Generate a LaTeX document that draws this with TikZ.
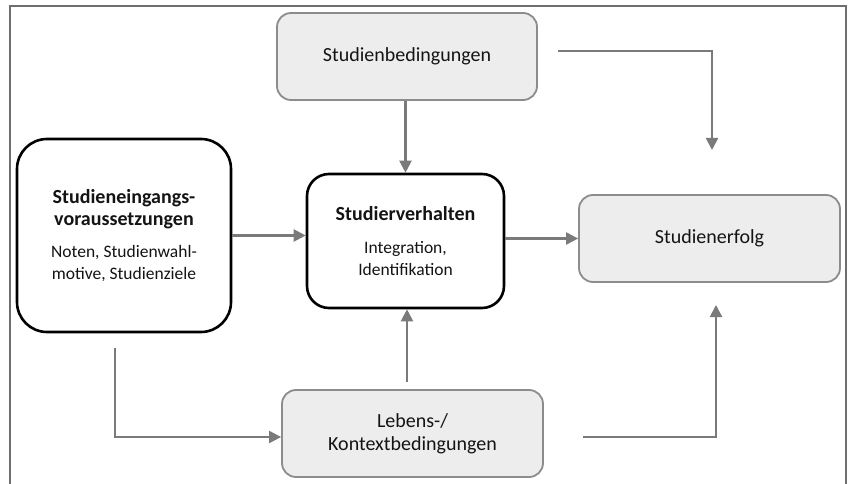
\documentclass[tikz,border=0pt]{standalone}
\usepackage{fontspec}
\setmainfont{Carlito}
\usetikzlibrary{arrows.meta}
\definecolor{boxgray}{HTML}{EDEDED}
\definecolor{edgegray}{HTML}{8C8C8C}
\definecolor{arrgray}{HTML}{7A7A7A}
\definecolor{framegray}{HTML}{6E6E6E}
\definecolor{txt}{HTML}{141414}
\begin{document}
\begin{tikzpicture}[x=1pt,y=-1pt,
  graybox/.style={draw=edgegray, fill=boxgray, line width=1.8pt, rounded corners=14pt,
    inner sep=0pt, align=center, text=txt, font=\fontsize{20}{23}\selectfont,
    minimum width=260pt, minimum height=87pt},
  blackbox/.style={draw=black, fill=white, line width=2.6pt, inner sep=0pt,
    align=center, text=txt, font=\fontsize{20}{22}\selectfont},
  conn/.style={draw=arrgray, line width=2.1pt, -{Triangle[length=12pt,width=12pt]}}]
\useasboundingbox (0,0) rectangle (849,484);
\fill[white] (0,0) rectangle (849,484);
\draw[framegray, line width=1.3pt] (10,484) -- (10,6) -- (846,6) -- (846,484);

\node[graybox] (bed) at (407,56.5) {Studienbedingungen};
\node[blackbox, rounded corners=30pt, minimum width=214pt, minimum height=193pt] (eing) at (124,235.5)
  {\textbf{Studieneingangs-}\\\textbf{voraussetzungen}\\[10pt]{\fontsize{17.5}{21}\selectfont Noten, Studienwahl-}\\{\fontsize{17.5}{21}\selectfont motive, Studienziele}};
\node[blackbox, rounded corners=22pt, minimum width=197pt, minimum height=134pt] (verh) at (405.5,241)
  {\textbf{Studierverhalten}\\[11pt]{\fontsize{17.5}{21}\selectfont Integration,}\\{\fontsize{17.5}{21}\selectfont Identifikation}};
\node[graybox, minimum width=261pt] (erf) at (709.5,238.5) {Studienerfolg};
\node[graybox, minimum width=261pt] (leb) at (412.5,433.5) {Lebens-/\\Kontextbedingungen};

\coordinate (b1) at (558,51);
\coordinate (b2) at (712,150);
\coordinate (e1) at (115,348);
\coordinate (l1) at (407,382);
\coordinate (l2) at (583,437);
\coordinate (l3) at (716,305);

\draw[conn] (bed.south -| verh.north) -- (verh.north);
\draw[conn] (eing.east) -- (eing.east -| verh.west);
\draw[conn] (verh.east |- erf.west) -- (erf.west);
\draw[conn] (b1) -| (b2);
\draw[conn] (e1) |- ([yshift=-3.5pt]leb.west);
\draw[conn] (l1) -- (l1 |- verh.south);
\draw[conn] (l2) -| (l3);
\end{tikzpicture}
\end{document}
